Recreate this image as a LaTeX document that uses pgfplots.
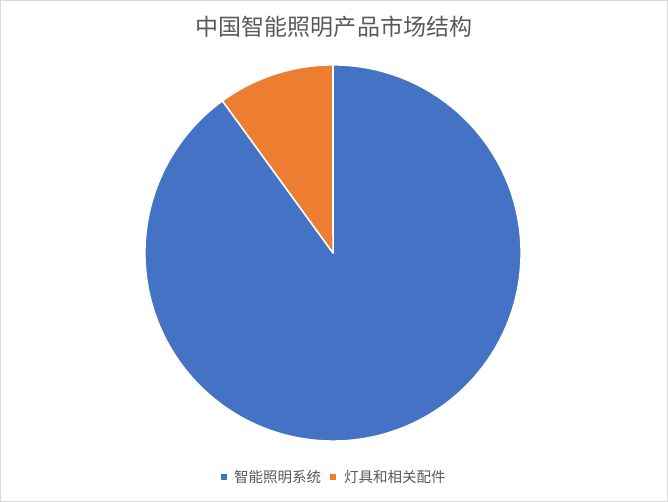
\documentclass[border=0pt]{standalone}
\usepackage{pgfplots}
\pgfplotsset{compat=1.18}
\usepackage{pgfplotstable}
\usepackage{fontspec}
\setmainfont{Liberation Sans}
\newfontfamily\cjk{Noto Sans CJK SC}

\definecolor{pieblue}{HTML}{4472C4}
\definecolor{pieorange}{HTML}{ED7D31}
\definecolor{txtgray}{HTML}{595959}
\definecolor{framegray}{HTML}{D9D9D9}

% market share (%)
\pgfplotstableread{
value
90
10
}\piedata

\begin{document}
\begin{tikzpicture}[x=1pt,y=1pt]
\pgfplotstablegetelem{0}{value}\of\piedata \let\va\pgfplotsretval
\pgfplotstablegetelem{1}{value}\of\piedata \let\vb\pgfplotsretval
\pgfmathsetmacro\aA{90}
\pgfmathsetmacro\aB{90-\va/(\va+\vb)*360}
\pgfmathsetmacro\aC{\aB-\vb/(\va+\vb)*360}

\draw[framegray, line width=0.75pt] (0.5,0.5) rectangle (667.5,501.5);
\node[txtgray, font=\cjk\fontsize{23}{25}\selectfont, inner sep=0] at (334,475) {中国智能照明产品市场结构};

\begin{axis}[
    at={(333pt,249pt)}, anchor=center,
    scale only axis, width=376pt, height=376pt,
    xmin=-1, xmax=1, ymin=-1, ymax=1,
    hide axis, clip=false,
]
\filldraw[fill=pieblue, draw=white, line width=1.5pt, line join=round]
    (axis cs:0,0) -- (axis cs:{cos(\aA)},{sin(\aA)})
    arc[start angle=\aA, end angle=\aB, radius=1] -- cycle;
\filldraw[fill=pieorange, draw=white, line width=1.5pt, line join=round]
    (axis cs:0,0) -- (axis cs:{cos(\aB)},{sin(\aB)})
    arc[start angle=\aB, end angle=\aC, radius=1] -- cycle;
\end{axis}

% legend
\fill[pieblue] (221,22.5) rectangle (227,28.5);
\node[txtgray, font=\cjk\fontsize{14.5}{16}\selectfont, anchor=west, inner sep=0] at (234,25.5) {智能照明系统};
\fill[pieorange] (330,22.5) rectangle (336,28.5);
\node[txtgray, font=\cjk\fontsize{14.5}{16}\selectfont, anchor=west, inner sep=0] at (344,25.5) {灯具和相关配件};
\end{tikzpicture}
\end{document}
